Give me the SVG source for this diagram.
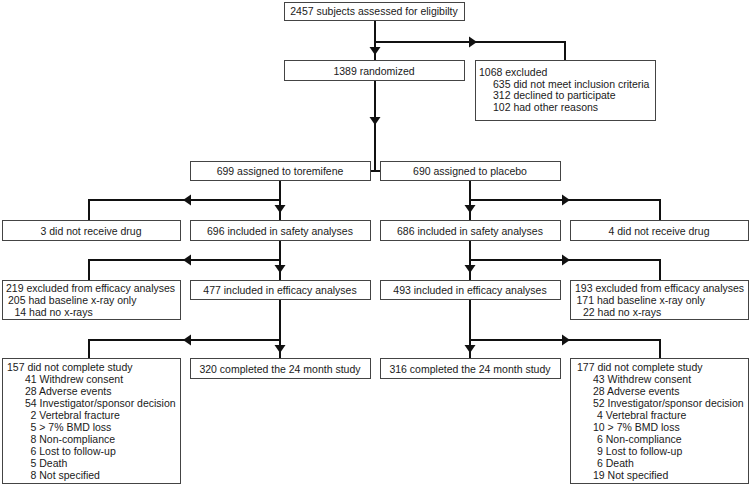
<svg xmlns="http://www.w3.org/2000/svg" xmlns:xlink="http://www.w3.org/1999/xlink" width="750" height="485" viewBox="0 0 750 485">
<style>
  .box { fill: #fff; stroke: #444; stroke-width: 1; }
  .t { font-family: "Liberation Sans", Arial, sans-serif; font-size: 10.5px; fill: #1a1a1a; }
  .c { text-anchor: middle; }
  .ln { fill: none; stroke: #111; stroke-width: 2; }
  .ah { fill: #111; stroke: none; }
</style>
<defs>
  <path id="ad" class="ah" d="M-5.5,0 H5.5 L0,8 Z"/>
  <path id="ar" class="ah" d="M0,-5.5 V5.5 L8,0 Z"/>
  <path id="al" class="ah" d="M0,-5.5 V5.5 L-8,0 Z"/>
</defs>
<rect width="750" height="485" fill="#fff"/>

<g id="connectors">
  <path class="ln" d="M375,20 V60"/>
  <path class="ln" d="M375,42 H565 V60"/>
  <path class="ln" d="M375,80 V171 M370,171 H380"/>
  <path class="ln" d="M280,180 V220 M280,200 H89 V220"/>
  <path class="ln" d="M280,240 V280 M280,260 H89 V280"/>
  <path class="ln" d="M280,300 V358 M280,340 H89 V358"/>
  <path class="ln" d="M470,180 V220 M470,200 H660 V220"/>
  <path class="ln" d="M470,240 V280 M470,260 H660 V280"/>
  <path class="ln" d="M470,300 V358 M470,340 H660 V358"/>
  <use xlink:href="#ad" x="375" y="47"/>
  <use xlink:href="#ar" x="469" y="42"/>
  <use xlink:href="#ad" x="375" y="117"/>
  <use xlink:href="#ad" x="280" y="205"/>
  <use xlink:href="#al" x="191" y="200"/>
  <use xlink:href="#ad" x="280" y="265"/>
  <use xlink:href="#al" x="191" y="260"/>
  <use xlink:href="#ad" x="280" y="345"/>
  <use xlink:href="#al" x="191" y="340"/>
  <use xlink:href="#ad" x="470" y="205"/>
  <use xlink:href="#ar" x="562" y="200"/>
  <use xlink:href="#ad" x="470" y="265"/>
  <use xlink:href="#ar" x="562" y="260"/>
  <use xlink:href="#ad" x="470" y="345"/>
  <use xlink:href="#ar" x="562" y="340"/>
</g>

<g id="n_screen">
  <rect class="box" x="284.5" y="2.5" width="180" height="18"/>
  <text class="t c" x="374" y="15">2457 subjects assessed for eligibilty</text>
</g>
<g id="n_random">
  <rect class="box" x="284.5" y="60.5" width="180" height="20"/>
  <text class="t c" x="374" y="74.5">1389 randomized</text>
</g>
<g id="n_excluded">
  <rect class="box" x="475.5" y="60.5" width="180" height="60"/>
  <text class="t" x="479" y="76">1068 excluded</text>
  <text class="t" x="493" y="87.6">635 did not meet inclusion criteria</text>
  <text class="t" x="493" y="99.2">312 declined to participate</text>
  <text class="t" x="493" y="110.8">102 had other reasons</text>
</g>
<g id="n_tor">
  <rect class="box" x="190.5" y="161.5" width="180" height="19"/>
  <text class="t c" x="280" y="175">699 assigned to toremifene</text>
</g>
<g id="n_plac">
  <rect class="box" x="380.5" y="161.5" width="180" height="19"/>
  <text class="t c" x="470" y="175">690 assigned to placebo</text>
</g>
<g id="n_tor_nodrug">
  <rect class="box" x="2.5" y="220.5" width="178" height="20"/>
  <text class="t c" x="91" y="234.5">3 did not receive drug</text>
</g>
<g id="n_tor_safety">
  <rect class="box" x="190.5" y="220.5" width="180" height="20"/>
  <text class="t c" x="280" y="234.5">696 included in safety analyses</text>
</g>
<g id="n_plac_safety">
  <rect class="box" x="380.5" y="220.5" width="180" height="20"/>
  <text class="t c" x="470" y="234.5">686 included in safety analyses</text>
</g>
<g id="n_plac_nodrug">
  <rect class="box" x="570.5" y="220.5" width="178" height="20"/>
  <text class="t c" x="659" y="234.5">4 did not receive drug</text>
</g>
<g id="n_tor_excl">
  <rect class="box" x="2.5" y="280.5" width="178" height="39"/>
  <text class="t" x="6" y="292">219 excluded from efficacy analyses</text>
  <text class="t" x="8" y="304">205 had baseline x-ray only</text>
  <text class="t" x="14.5" y="316">14 had no x-rays</text>
</g>
<g id="n_tor_eff">
  <rect class="box" x="190.5" y="280.5" width="180" height="19"/>
  <text class="t c" x="280" y="294">477 included in efficacy analyses</text>
</g>
<g id="n_plac_eff">
  <rect class="box" x="380.5" y="280.5" width="180" height="19"/>
  <text class="t c" x="470" y="294">493 included in efficacy analyses</text>
</g>
<g id="n_plac_excl">
  <rect class="box" x="570.5" y="280.5" width="178" height="39"/>
  <text class="t" x="575" y="292">193 excluded from efficacy analyses</text>
  <text class="t" x="576.5" y="304">171 had baseline x-ray only</text>
  <text class="t" x="583" y="316">22 had no x-rays</text>
</g>
<g id="n_tor_comp">
  <rect class="box" x="190.5" y="358.5" width="180" height="20"/>
  <text class="t c" x="280" y="372.5">320 completed the 24 month study</text>
</g>
<g id="n_plac_comp">
  <rect class="box" x="380.5" y="358.5" width="180" height="20"/>
  <text class="t c" x="470" y="372.5">316 completed the 24 month study</text>
</g>
<g id="n_tor_disc">
  <rect class="box" x="2.5" y="358.5" width="178" height="125"/>
  <text class="t" x="7" y="370.7">157 did not complete study</text>
  <text class="t" x="25" y="382.8">41 Withdrew consent</text>
  <text class="t" x="25" y="394.9">28 Adverse events</text>
  <text class="t" x="25" y="406.9">54 Investigator/sponsor decision</text>
  <text class="t" x="30.5" y="419">2 Vertebral fracture</text>
  <text class="t" x="30.5" y="431.1">5 &gt; 7% BMD loss</text>
  <text class="t" x="30.5" y="443.1">8 Non-compliance</text>
  <text class="t" x="30.5" y="455.2">6 Lost to follow-up</text>
  <text class="t" x="30.5" y="467.3">5 Death</text>
  <text class="t" x="30.5" y="479.3">8 Not specified</text>
</g>
<g id="n_plac_disc">
  <rect class="box" x="570.5" y="358.5" width="178" height="125"/>
  <text class="t" x="577" y="370.7">177 did not complete study</text>
  <text class="t" x="593" y="382.8">43 Withdrew consent</text>
  <text class="t" x="593" y="394.9">28 Adverse events</text>
  <text class="t" x="593" y="406.9">52 Investigator/sponsor decision</text>
  <text class="t" x="597" y="419">4 Vertebral fracture</text>
  <text class="t" x="593" y="431.1">10 &gt; 7% BMD loss</text>
  <text class="t" x="597" y="443.1">6 Non-compliance</text>
  <text class="t" x="597" y="455.2">9 Lost to follow-up</text>
  <text class="t" x="597" y="467.3">6 Death</text>
  <text class="t" x="593" y="479.3">19 Not specified</text>
</g>
</svg>
